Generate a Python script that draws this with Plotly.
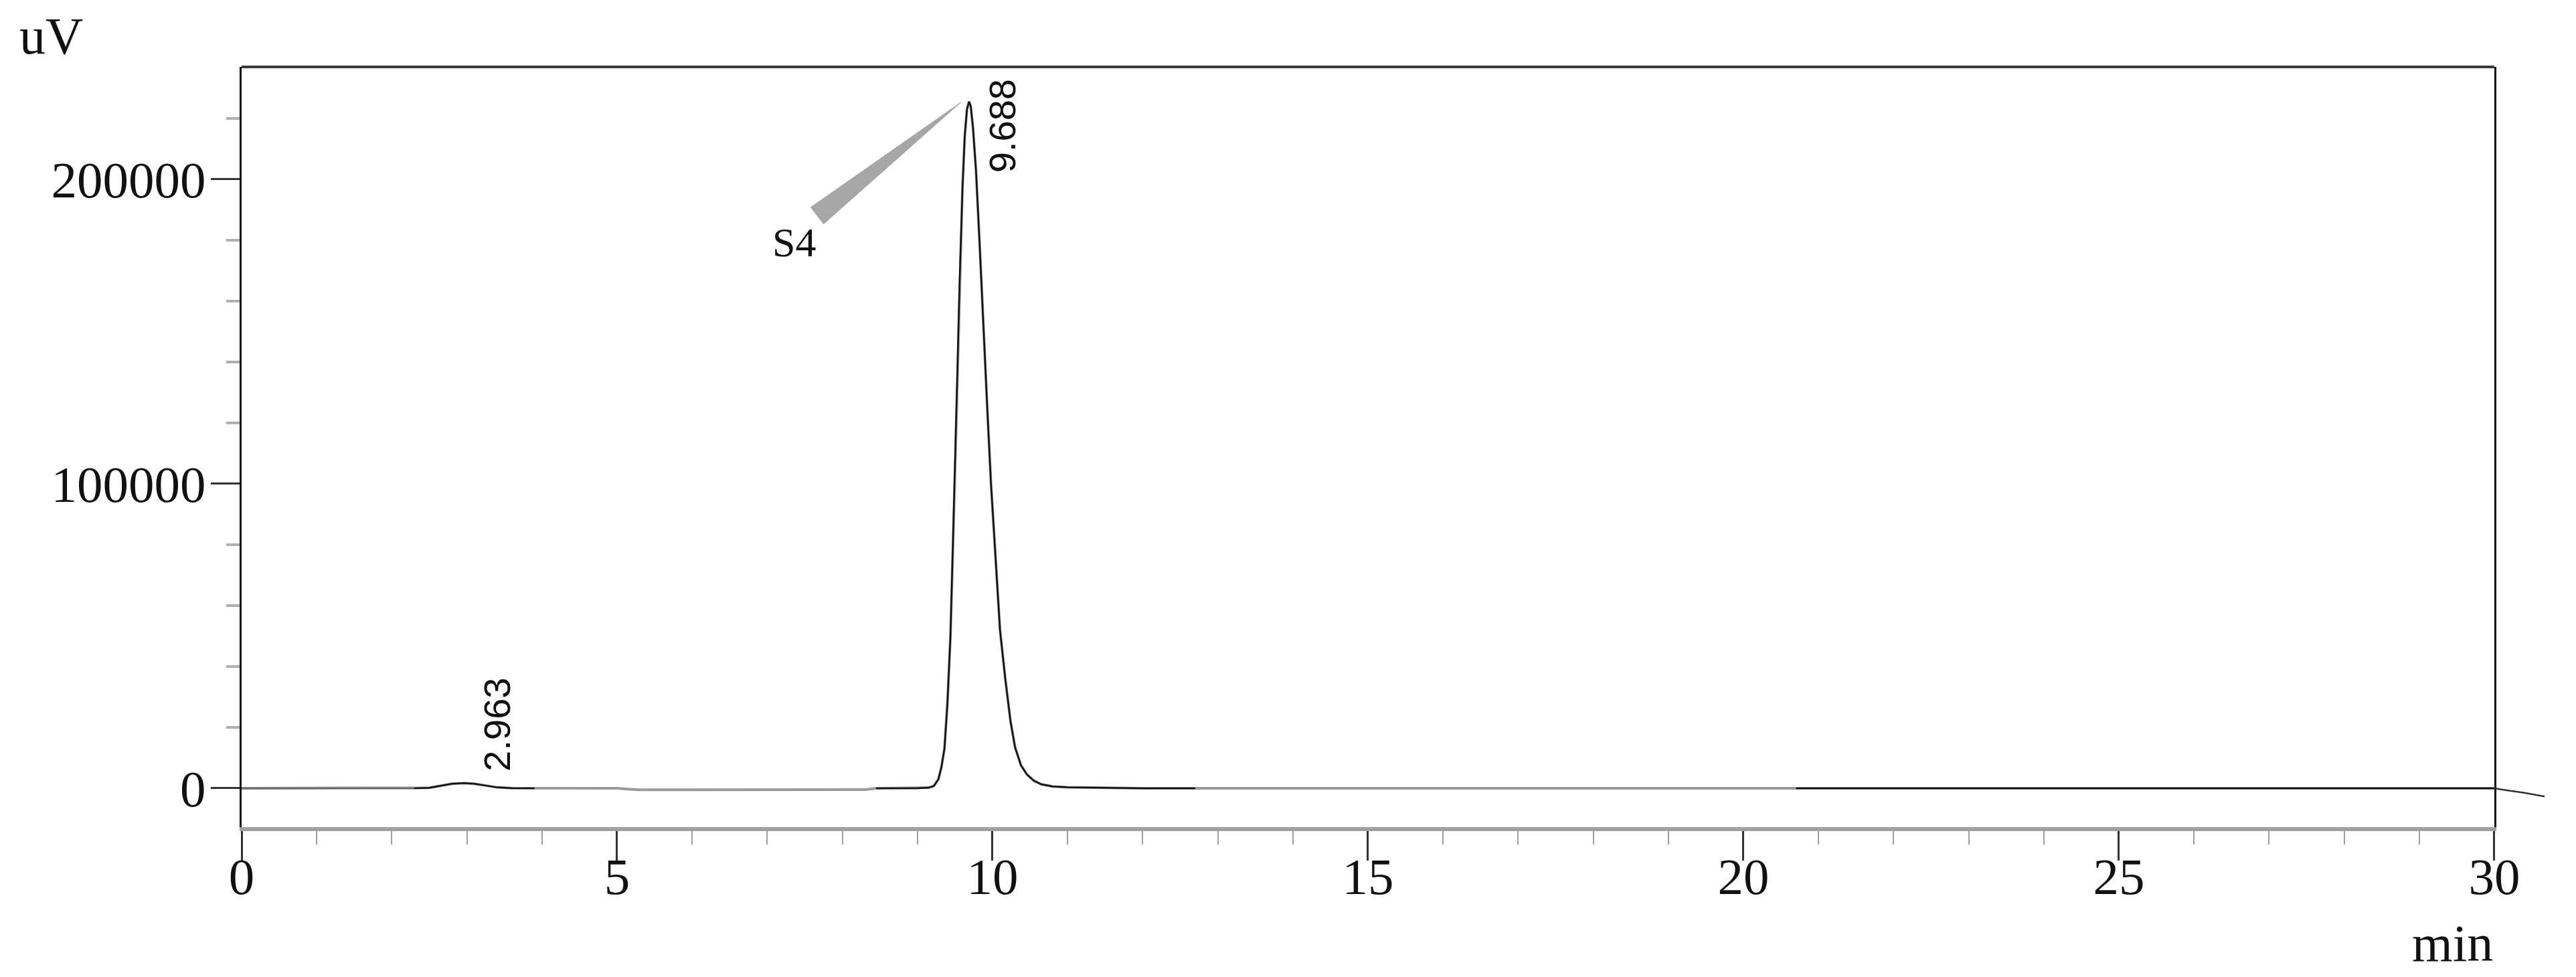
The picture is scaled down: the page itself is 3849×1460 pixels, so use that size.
import plotly.graph_objects as go

# Chromatogram trace (min, uV)
signal_time = [
    0.0, 0.5, 1.0, 1.5, 2.0, 2.3, 2.5, 2.65, 2.8, 2.963, 3.1, 3.25, 3.4, 3.6, 3.9,
    4.5, 5.0, 5.15, 5.3, 6.0, 7.0, 8.0, 8.3, 8.45, 8.8, 9.0, 9.15, 9.22, 9.28,
    9.32, 9.36, 9.40, 9.44, 9.48, 9.52, 9.56, 9.60, 9.63, 9.66, 9.688, 9.71,
    9.74, 9.78, 9.83, 9.88, 9.93, 9.98, 10.04, 10.10, 10.17, 10.24, 10.30,
    10.38, 10.46, 10.55, 10.65, 10.80, 11.0, 11.5, 12.0, 12.7, 15.0, 20.0,
    20.7, 25.0, 30.0,
]
signal_uv = [
    0, 0, 0, 0, 0, 0, 150, 800, 1500, 1700, 1500, 900, 300, 50, 0,
    0, 0, -300, -500, -500, -500, -500, -450, 0, 0, 0, 200, 800, 3000,
    7000, 13000, 28000, 50000, 85000, 125000, 165000, 197000, 214000, 223000, 225500, 224000,
    217000, 203000, 178000, 150000, 125000, 100000, 75000, 52000, 36000, 22000, 13500,
    7500, 4500, 2500, 1300, 600, 300, 100, 0, 0, 0, 0,
    0, 0, 0,
]
# trace running past the end of the time axis
tail_time = [30.0, 30.12, 30.4, 30.67]
tail_uv = [0, -500, -1500, -2700]

# stretches where the trace is drawn dark
dark_windows = [(0.0, 2.3), (2.3, 3.9), (8.4, 12.7), (20.7, 30.0)]

# peak labels
peak_rt = [2.963, 9.688]
peak_label_y = [20900, 217600]

# S4 callout wedge (tip at the main peak)
s4_wedge_x = [9.58, 7.58, 7.75, 9.58]
s4_wedge_y = [225300, 190800, 185300, 225300]
s4_text_pos = (7.36, 179300)

x_range = [0, 30]
y_range = [-12750, 236900]

W, H = 3849, 1460
ML, MR, MT, MB = 353, 9, 92, 232
plot_w = W - ML - MR
plot_h = H - MT - MB
main_w = 3404
dom = main_w / plot_w

serif = "Liberation Serif"
sans = "Liberation Sans"

fig = go.Figure()

fig.add_trace(go.Scatter(
    x=signal_time, y=signal_uv, mode="lines",
    line=dict(color="#9a9a9a", width=4), hoverinfo="skip", showlegend=False,
))
for i, (lo, hi) in enumerate(dark_windows):
    xs = [t for t in signal_time if lo <= t <= hi]
    ys = [v for t, v in zip(signal_time, signal_uv) if lo <= t <= hi]
    fig.add_trace(go.Scatter(
        x=xs, y=ys, mode="lines",
        line=dict(color="#6a6a6a" if i == 0 else "#111111", width=2.5),
        hoverinfo="skip", showlegend=False,
    ))

# tail past 30 min lives on a wider hidden axis so it is not clipped
fig.add_trace(go.Scatter(
    x=tail_time, y=tail_uv, mode="lines", xaxis="x2", yaxis="y",
    line=dict(color="#333333", width=2.5), hoverinfo="skip", showlegend=False,
))

fig.add_trace(go.Scatter(
    x=s4_wedge_x, y=s4_wedge_y, mode="lines", fill="toself",
    fillcolor="#a6a6a6", line=dict(color="#a6a6a6", width=1),
    hoverinfo="skip", showlegend=False,
))

for rt, ly in zip(peak_rt, peak_label_y):
    fig.add_annotation(
        x=rt + 0.44, y=ly, text=f"{rt:.3f}", showarrow=False, textangle=-90,
        font=dict(family=sans, size=56, color="#111111"),
        xanchor="center", yanchor="middle",
    )

fig.add_annotation(
    x=s4_text_pos[0], y=s4_text_pos[1], text="S4", showarrow=False,
    font=dict(family=serif, size=62, color="#111111"),
    xanchor="center", yanchor="middle",
)

# axis unit labels
fig.add_annotation(
    x=(15 - ML) / main_w, y=1 + (MT - 46) / plot_h,
    xref="x domain", yref="y domain", text="uV", showarrow=False,
    font=dict(family=serif, size=78, color="#111111"),
    xanchor="left", yanchor="middle",
)
fig.add_annotation(
    x=1.0, y=-(1401.5 - (H - MB)) / plot_h, xref="x domain", yref="y domain",
    text="min", showarrow=False,
    font=dict(family=serif, size=78, color="#111111"),
    xanchor="right", yanchor="middle",
)

# top frame line
fig.add_shape(
    type="line", xref="x domain", yref="y domain", x0=0, x1=1, y0=1, y1=1,
    line=dict(color="#3a3a3a", width=4),
)

fig.update_layout(
    width=W, height=H,
    margin=dict(l=ML, r=MR, t=MT, b=MB),
    paper_bgcolor="white", plot_bgcolor="rgba(0,0,0,0)",
    showlegend=False,
    xaxis=dict(
        domain=[0, dom], range=x_range, dtick=5, tick0=0,
        showgrid=False, zeroline=False,
        showline=True, linecolor="#a0a0a0", linewidth=6,
        ticks="outside", ticklen=44, tickwidth=2.5, tickcolor="#333333",
        minor=dict(ticks="outside", ticklen=20, dtick=1, tickwidth=2, tickcolor="#a0a0a0"),
        tickfont=dict(family=serif, size=77, color="#111111"),
        ticklabelstandoff=-42,
    ),
    xaxis2=dict(
        domain=[0, 1], range=[0, 30 * plot_w / main_w], anchor="y",
        visible=False, showgrid=False, zeroline=False,
    ),
    yaxis=dict(
        range=y_range, dtick=100000, tick0=0,
        showgrid=False, zeroline=False,
        showline=True, linecolor="#111111", linewidth=3, mirror=True,
        ticks="outside", ticklen=43, tickwidth=2.5, tickcolor="#333333",
        minor=dict(ticks="outside", ticklen=20, dtick=20000, tickwidth=4, tickcolor="#b0b0b0"),
        tickfont=dict(family=serif, size=77, color="#111111"),
        tickformat="d",
        ticklabelstandoff=-8,
    ),
)

fig.write_html("out.html")
